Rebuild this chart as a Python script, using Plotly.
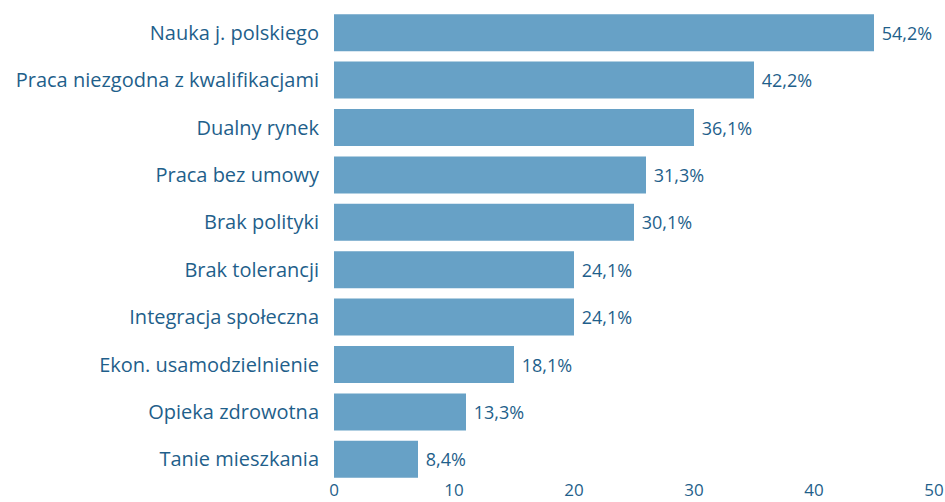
import plotly.graph_objects as go

# categories from top to bottom
categories = [
    "Nauka j. polskiego",
    "Praca niezgodna z kwalifikacjami",
    "Dualny rynek",
    "Praca bez umowy",
    "Brak polityki",
    "Brak tolerancji",
    "Integracja społeczna",
    "Ekon. usamodzielnienie",
    "Opieka zdrowotna",
    "Tanie mieszkania",
]
counts = [45, 35, 30, 26, 25, 20, 20, 15, 11, 7]
percent_labels = ["54,2%", "42,2%", "36,1%", "31,3%", "30,1%",
                  "24,1%", "24,1%", "18,1%", "13,3%", "8,4%"]
x_ticks = [0, 10, 20, 30, 40, 50]

text_color = "#1f5f8b"
bar_color = "#67a1c6"

fig = go.Figure(go.Bar(
    y=categories,
    x=counts,
    orientation="h",
    marker=dict(color=bar_color, line=dict(width=0)),
    text=[" " + t for t in percent_labels],
    textposition="outside",
    textfont=dict(family="Open Sans", size=18, color=text_color),
    cliponaxis=False,
))

fig.update_layout(
    width=945, height=502,
    margin=dict(l=334, r=11, t=9, b=19, autoexpand=False),
    plot_bgcolor="white",
    paper_bgcolor="white",
    bargap=0.22,
    showlegend=False,
)
fig.update_xaxes(
    range=[0, 50], tickvals=x_ticks, showgrid=False, zeroline=False,
    showline=False, ticks="", automargin=False, ticklabelstandoff=-5,
    tickfont=dict(family="Open Sans", size=17, color=text_color),
)
fig.update_yaxes(
    autorange="reversed", showgrid=False, ticks="", showline=False,
    ticklabelstandoff=14, automargin=False,
    tickfont=dict(family="Open Sans", size=20, color=text_color),
)

# page body has a default 8px margin; drop it so the figure fills the window
fig.write_html("out.html", config={"displayModeBar": False},
               post_script="document.body.style.margin='0';")
